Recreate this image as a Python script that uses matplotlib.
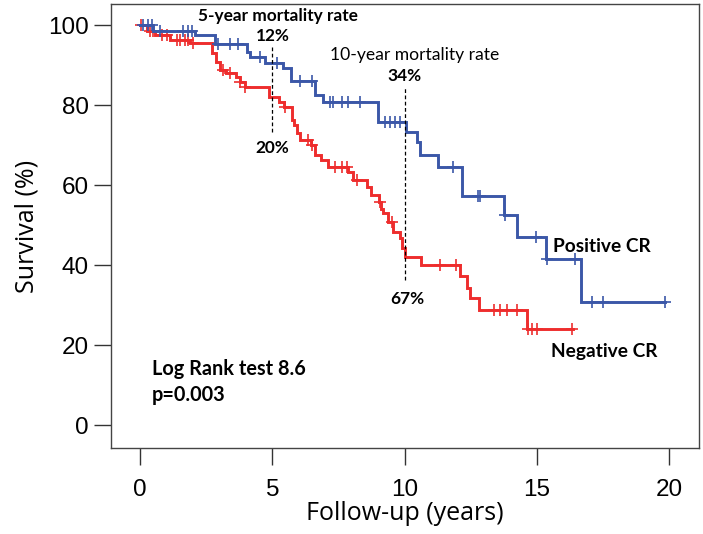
import numpy as np
import matplotlib
matplotlib.use('Agg')
import matplotlib.pyplot as plt

# Kaplan-Meier steps (years, survival %)
neg_times = [0, 0.26, 0.57, 1.13, 1.89, 2.72, 2.87, 3.02, 3.25, 3.63, 3.78, 3.97,
             4.86, 5.26, 5.44, 5.75, 5.82, 5.94, 6.05, 6.47, 6.62, 6.84, 7.11,
             7.86, 8.05, 8.58, 8.73, 9.04, 9.11, 9.19, 9.38, 9.57, 9.83, 9.90,
             10.02, 10.62, 12.10, 12.36, 12.48, 12.82, 14.63, 16.37]
neg_surv = [100, 98.5, 97.5, 96.3, 95.4, 92.9, 90.8, 88.8, 87.9, 87.1, 85.8, 84.6,
            82.0, 80.8, 79.6, 76.3, 75.0, 72.9, 71.3, 70.0, 67.5, 66.3, 64.6,
            63.3, 61.3, 59.6, 57.5, 55.8, 54.0, 53.0, 50.8, 48.3, 46.7, 44.2,
            42.0, 40.0, 37.3, 34.2, 31.8, 28.8, 24.0, 24.0]
neg_censor = [0.04, 0.38, 0.49, 0.83, 1.02, 1.40, 1.51, 1.70, 1.81, 2.0, 3.14, 3.40,
              3.78, 3.97, 5.48, 6.35, 6.50, 7.37, 7.64, 7.83, 8.2, 9.07, 9.53,
              11.34, 11.95, 13.38, 13.61, 13.88, 14.25, 14.67, 14.82, 15.01, 16.33]

pos_times = [0, 0.49, 2.08, 2.84, 4.05, 4.16, 4.73, 5.41, 5.71, 6.62, 6.92, 9.0,
             10.06, 10.47, 10.59, 11.27, 12.17, 13.76, 14.25, 15.35, 16.67, 19.85]
pos_surv = [100, 98.6, 97.5, 95.2, 93.3, 92.0, 90.4, 89.2, 86.0, 82.5, 80.8, 75.8,
            73.3, 70.8, 67.5, 64.4, 57.3, 52.5, 47.1, 41.4, 30.8, 30.8]
pos_censor = [0.11, 0.30, 0.45, 0.76, 1.63, 1.81, 1.97, 2.95, 3.40, 3.71, 4.54, 5.18,
              6.05, 6.50, 7.18, 7.30, 7.64, 7.86, 8.32, 9.26, 9.45, 9.64, 9.83,
              11.83, 12.78, 12.85, 13.80, 14.97, 15.39, 16.45, 17.09, 17.50, 19.85]

RED = '#ee2d2d'
BLUE = '#3b57a8'


def surv_at(times, surv, t):
    idx = np.searchsorted(times, t, side='right') - 1
    return np.asarray(surv)[idx]


fig = plt.figure(figsize=(7.03, 5.34), dpi=100)
ax = fig.add_axes([111 / 703, 86 / 534, 588 / 703, 444 / 534])

for times, surv, cens, col in [(neg_times, neg_surv, neg_censor, RED),
                               (pos_times, pos_surv, pos_censor, BLUE)]:
    ax.step(times, surv, where='post', color=col, lw=2.1, solid_joinstyle='miter')
    ax.plot(cens, surv_at(times, surv, cens), ls='none', marker='+',
            ms=8, mew=1.2, color=col)

# mortality reference lines
ax.plot([5, 5], [73.25, 94.5], color='black', lw=0.9, ls=(0, (3, 2)))
ax.plot([10, 10], [36.25, 84.25], color='black', lw=0.9, ls=(0, (3, 2)))

ann = dict(family='Lato', color='black', va='center')
ax.text(2.19, 102.25, '5-year mortality rate', fontsize=12.4, fontweight='bold', ha='left', **ann)
ax.text(5, 97.25, '12%', fontsize=12.4, fontweight='bold', ha='center', **ann)
ax.text(7.18, 92.5, '10-year mortality rate', fontsize=12.6, ha='left', **ann)
ax.text(10, 87.25, '34%', fontsize=12.4, fontweight='bold', ha='center', **ann)
ax.text(5, 69.25, '20%', fontsize=12.4, fontweight='bold', ha='center', **ann)
ax.text(10.1, 31.5, '67%', fontsize=12.4, fontweight='bold', ha='center', **ann)
ax.text(15.61, 44.5, 'Positive CR', fontsize=13.8, fontweight='bold', ha='left', **ann)
ax.text(15.54, 18.25, 'Negative CR', fontsize=13.8, fontweight='bold', ha='left', **ann)
ax.text(0.45, 14, 'Log Rank test 8.6', fontsize=14.3, fontweight='bold', ha='left', **ann)
ax.text(0.45, 7.5, 'p=0.003', fontsize=14.3, fontweight='bold', ha='left', **ann)

ax.set_xlim(-1.1, 21.13)
ax.set_ylim(-5.75, 105.25)
ax.set_xticks([0, 5, 10, 15, 20])
ax.set_yticks([0, 20, 40, 60, 80, 100])
ax.tick_params(direction='out', length=12, width=1.0, color='#333333',
               labelsize=17.5, pad=4)
ax.tick_params(axis='x', pad=10)
for lab in ax.get_xticklabels() + ax.get_yticklabels():
    lab.set_family('Liberation Sans')
for sp in ax.spines.values():
    sp.set_color('#444444')
    sp.set_linewidth(1.0)

ax.set_xlabel('Follow-up (years)', family='Open Sans', fontsize=18, labelpad=0)
ax.set_ylabel('Survival (%)', family='Open Sans', fontsize=18, labelpad=6)

fig.savefig('out.png', dpi=100)
